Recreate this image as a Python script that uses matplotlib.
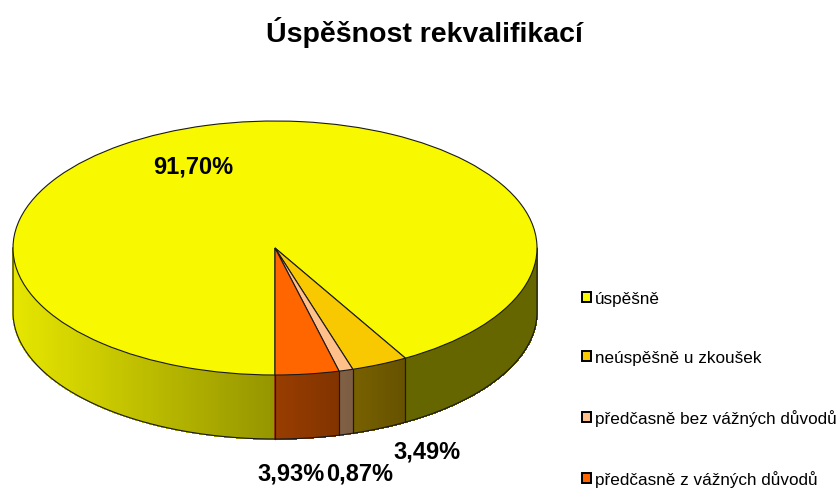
import matplotlib
matplotlib.use('Agg')
import matplotlib.pyplot as plt
from matplotlib.patches import Patch
import numpy as np

title = 'Úspěšnost rekvalifikací'
categories = ['úspěšně', 'neúspěšně u zkoušek', 'předčasně bez vážných důvodů', 'předčasně z vážných důvodů']
values = [91.70, 3.49, 0.87, 3.93]
colors = ['#F8F800', '#F8C800', '#FFC08A', '#FF6600']

# label centres in pixels of the 840x489 picture
label_px = [(193, 167), (427, 452), (360, 474), (291, 474)]

W, H = 840, 489
plt.rcParams['font.family'] = ['Liberation Sans', 'DejaVu Sans']

fig = plt.figure(figsize=(W / 100, H / 100), dpi=100)

# the top of the pie is a circle squashed by a wide axes
ax = fig.add_axes([13 / W, 1 - 376 / H, 524 / W, 254 / H])
wedges, _ = ax.pie(values, colors=colors, startangle=270, counterclock=False, radius=1,
                   wedgeprops={'edgecolor': '#1a1a1a', 'linewidth': 0.8})
ax.set_aspect('auto')
ax.set_xlim(-1, 1)
ax.set_ylim(-1, 1)
for w in wedges:
    w.set_clip_on(False)
    w.set_zorder(3)

depth = 64 / 127  # wall height in axes units


def shade(x):
    # the wall gets darker from left to right
    return np.interp(x, [-1, 0, 0.5, 1], [0.93, 0.60, 0.41, 0.41])


# --- side wall ---
for w, c in zip(wedges, colors):
    rgb = np.array(matplotlib.colors.to_rgb(c))
    steps = max(int(w.theta2 - w.theta1), 2) * 2
    t = np.radians(np.linspace(w.theta1, w.theta2, steps + 1))
    for t0, t1 in zip(t[:-1], t[1:]):
        if np.sin((t0 + t1) / 2) >= 0:
            continue
        xs = [np.cos(t0), np.cos(t1), np.cos(t1), np.cos(t0)]
        ys = [np.sin(t0), np.sin(t1), np.sin(t1) - depth, np.sin(t0) - depth]
        col = rgb * shade((np.cos(t0) + np.cos(t1)) / 2)
        # no antialiasing here, otherwise the strips show as stripes
        ax.fill(xs, ys, color=col, lw=0.6, antialiased=False, zorder=1, clip_on=False)
    # slice border going down the wall
    for a in (w.theta1, w.theta2):
        s = np.sin(np.radians(a))
        if s < -0.01:
            x = np.cos(np.radians(a))
            ax.plot([x, x], [s, s - depth], color='#1a1a1a', lw=0.8, zorder=2, clip_on=False)

# wall outline
t = np.radians(np.linspace(180, 360, 300))
ax.plot(np.r_[-1, np.cos(t), 1], np.r_[0, np.sin(t) - depth, 0], color='#1a1a1a', lw=0.8,
        zorder=2, clip_on=False)

# --- texts ---
fig.text(424 / W, 1 - 33 / H, title, ha='center', va='center', fontsize=20.5, fontweight='bold', color='black')

for v, (px, py) in zip(values, label_px):
    fig.text(px / W, 1 - py / H, f'{v:.2f}'.replace('.', ',') + '%', ha='center', va='center',
             fontsize=17, fontweight='bold', color='black')

handles = [Patch(facecolor=c, edgecolor='black', linewidth=1.4) for c in colors]
fig.legend(handles, categories, loc='upper left', bbox_to_anchor=(582 / W, 1 - 292 / H),
           frameon=False, fontsize=12.3, labelspacing=2.58, handlelength=0.55, handleheight=0.55,
           handletextpad=0.2, borderpad=0, borderaxespad=0)

fig.savefig('out.png', dpi=100)
